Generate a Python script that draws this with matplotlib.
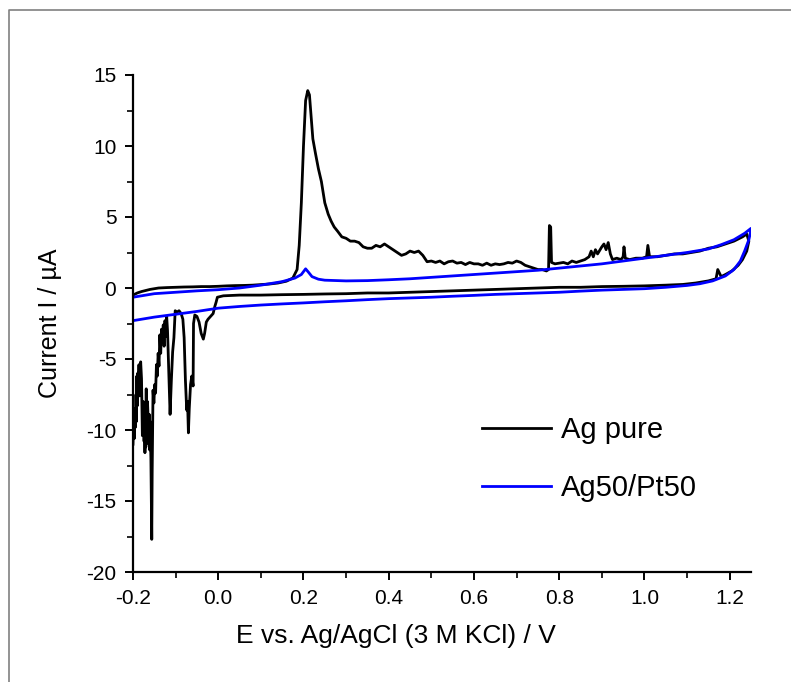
import matplotlib.pyplot as plt
from matplotlib.lines import Line2D
from matplotlib.ticker import MultipleLocator

plt.rcParams['font.family'] = ['Liberation Sans', 'DejaVu Sans']

# Ag pure: anodic sweep -0.2 -> 1.25 V, then cathodic sweep back
ag_fwd_e = [-0.200, -0.190, -0.180, -0.160, -0.140, -0.120, -0.100, -0.080, -0.060, -0.040,
            -0.020, 0.000, 0.020, 0.040, 0.060, 0.080, 0.100, 0.120, 0.140, 0.160,
            0.175, 0.185, 0.190, 0.195, 0.200, 0.205, 0.210, 0.214, 0.218, 0.222,
            0.228, 0.235, 0.242, 0.250, 0.258, 0.265, 0.272, 0.280, 0.290, 0.300,
            0.310, 0.320, 0.330, 0.340, 0.350, 0.360, 0.370, 0.380, 0.390, 0.400,
            0.410, 0.420, 0.430, 0.440, 0.450, 0.460, 0.470, 0.480, 0.490, 0.500,
            0.510, 0.520, 0.530, 0.540, 0.550, 0.560, 0.570, 0.580, 0.590, 0.600,
            0.610, 0.620, 0.630, 0.640, 0.650, 0.660, 0.670, 0.680, 0.690, 0.700,
            0.710, 0.720, 0.730, 0.740, 0.750, 0.760, 0.770, 0.775, 0.777, 0.780,
            0.782, 0.790, 0.800, 0.810, 0.820, 0.830, 0.840, 0.850, 0.860, 0.870,
            0.875, 0.880, 0.885, 0.890, 0.900, 0.905, 0.910, 0.915, 0.920, 0.925,
            0.935, 0.945, 0.950, 0.952, 0.955, 0.965, 0.980, 0.995, 1.005, 1.008,
            1.012, 1.030, 1.050, 1.070, 1.090, 1.110, 1.130, 1.150, 1.170, 1.190,
            1.210, 1.230, 1.240]
ag_fwd_i = [-0.50, -0.35, -0.25, -0.10, 0.00, 0.03, 0.05, 0.07, 0.08, 0.10,
            0.10, 0.12, 0.15, 0.17, 0.18, 0.20, 0.24, 0.28, 0.35, 0.48,
            0.70, 1.30, 3.00, 6.00, 10.0, 13.2, 13.9, 13.6, 12.0, 10.5,
            9.5, 8.4, 7.5, 6.0, 5.2, 4.7, 4.3, 4.0, 3.6, 3.5,
            3.3, 3.3, 3.2, 2.9, 2.8, 2.8, 3.0, 2.9, 3.1, 2.9,
            2.7, 2.5, 2.3, 2.4, 2.6, 2.5, 2.6, 2.3, 1.85, 1.9,
            1.8, 1.9, 1.7, 1.85, 1.9, 1.75, 1.8, 1.65, 1.8, 1.7,
            1.7, 1.6, 1.75, 1.6, 1.7, 1.65, 1.7, 1.8, 1.75, 1.9,
            1.8, 1.6, 1.5, 1.4, 1.3, 1.3, 1.2, 1.3, 4.4, 4.3,
            1.8, 1.7, 1.75, 1.8, 1.7, 1.9, 1.8, 1.9, 2.0, 2.2,
            2.6, 2.2, 2.7, 2.4, 2.9, 3.1, 2.7, 3.2, 2.4, 2.0,
            2.1, 2.0, 2.2, 2.9, 2.1, 2.0, 2.1, 2.1, 2.2, 3.0,
            2.2, 2.2, 2.3, 2.4, 2.4, 2.5, 2.6, 2.8, 2.9, 3.1,
            3.3, 3.6, 3.8]

ag_rev_e = [1.240, 1.245, 1.240, 1.230, 1.220, 1.205, 1.190, 1.180, 1.172, 1.168,
            1.150, 1.120, 1.090, 1.050, 1.000, 0.950, 0.900, 0.850, 0.800, 0.750,
            0.700, 0.650, 0.600, 0.550, 0.500, 0.450, 0.400, 0.350, 0.300, 0.250,
            0.200, 0.150, 0.100, 0.050, 0.012, 0.005, -0.002, -0.005, -0.008, -0.012,
            -0.018, -0.024, -0.028, -0.032, -0.035, -0.040, -0.045, -0.050, -0.055, -0.058,
            -0.059, -0.062, -0.065, -0.068, -0.070, -0.072, -0.074, -0.077, -0.080, -0.083,
            -0.087, -0.092, -0.097, -0.101, -0.104, -0.107, -0.110, -0.113, -0.116, -0.119,
            -0.121, -0.123, -0.125, -0.127, -0.129, -0.131, -0.133, -0.135, -0.137, -0.139,
            -0.141, -0.143, -0.145, -0.147, -0.149, -0.151, -0.153, -0.155, -0.156, -0.158,
            -0.160, -0.161, -0.162, -0.163, -0.164, -0.166, -0.168, -0.169, -0.170, -0.171,
            -0.172, -0.173, -0.174, -0.176, -0.178, -0.180, -0.182, -0.184, -0.186, -0.188,
            -0.189, -0.190, -0.191, -0.192, -0.193, -0.194, -0.196, -0.197, -0.198, -0.200]
ag_rev_i = [3.8, 3.3, 2.6, 2.0, 1.6, 1.2, 0.95, 0.8, 1.3, 0.65,
            0.5, 0.35, 0.25, 0.2, 0.15, 0.12, 0.1, 0.05, 0.05, 0.0,
            -0.05, -0.1, -0.15, -0.2, -0.25, -0.3, -0.35, -0.35, -0.4, -0.42,
            -0.45, -0.47, -0.5, -0.5, -0.55, -0.6, -0.65, -1.0, -1.3, -1.8,
            -2.0, -2.2, -2.4, -3.2, -3.6, -3.2, -2.4, -2.0, -1.9, -2.5,
            -6.9, -6.2, -6.8, -8.5, -10.2, -8.0, -8.6, -6.5, -3.5, -2.2,
            -1.8, -1.6, -1.7, -1.6, -3.5, -4.5, -6.5, -8.9, -6.0, -3.0,
            -2.0, -3.4, -2.3, -4.1, -2.6, -3.8, -2.9, -4.6, -3.3, -5.5,
            -4.6, -6.2, -5.4, -7.4, -6.8, -8.1, -7.2, -13.0, -17.7, -12.0,
            -9.4, -11.4, -8.9, -11.0, -9.6, -8.0, -10.3, -7.1, -11.2, -8.6,
            -11.6, -9.2, -10.8, -8.0, -10.4, -6.4, -5.2, -7.6, -5.4, -7.1,
            -6.0, -8.3, -6.2, -9.4, -7.5, -9.8, -8.5, -10.6, -9.0, -11.0]

# Ag50/Pt50
agpt_fwd_e = [-0.200, -0.150, -0.100, -0.050, 0.000, 0.050, 0.100, 0.150, 0.180, 0.195,
              0.205, 0.212, 0.220, 0.235, 0.250, 0.300, 0.350, 0.400, 0.450, 0.500,
              0.550, 0.600, 0.650, 0.700, 0.750, 0.800, 0.850, 0.900, 0.950, 1.000,
              1.050, 1.100, 1.150, 1.180, 1.210, 1.235, 1.250]
agpt_fwd_i = [-0.65, -0.40, -0.30, -0.20, -0.12, 0.00, 0.20, 0.45, 0.70, 0.95,
              1.35, 1.10, 0.80, 0.62, 0.55, 0.50, 0.52, 0.58, 0.65, 0.75,
              0.85, 0.95, 1.05, 1.15, 1.25, 1.40, 1.55, 1.70, 1.90, 2.10,
              2.30, 2.50, 2.75, 3.05, 3.40, 3.85, 4.20]

agpt_rev_e = [1.250, 1.245, 1.235, 1.225, 1.210, 1.190, 1.160, 1.130, 1.100, 1.050,
              1.000, 0.950, 0.900, 0.850, 0.800, 0.750, 0.700, 0.650, 0.600, 0.550,
              0.500, 0.450, 0.400, 0.350, 0.300, 0.250, 0.200, 0.150, 0.100, 0.050,
              0.000, -0.050, -0.100, -0.150, -0.200]
agpt_rev_i = [4.10, 3.40, 2.60, 1.90, 1.30, 0.85, 0.50, 0.30, 0.18, 0.05,
              -0.05, -0.10, -0.15, -0.22, -0.30, -0.35, -0.40, -0.45, -0.52, -0.58,
              -0.65, -0.70, -0.75, -0.82, -0.90, -0.97, -1.05, -1.12, -1.20, -1.30,
              -1.42, -1.65, -1.85, -2.05, -2.30]

x_ticks = [-0.2, 0.0, 0.2, 0.4, 0.6, 0.8, 1.0, 1.2]
x_tick_labels = ['-0.2', '0.0', '0.2', '0.4', '0.6', '0.8', '1.0', '1.2']
y_ticks = [-20, -15, -10, -5, 0, 5, 10, 15]
y_tick_labels = ['-20', '-15', '-10', '-5', '0', '5', '10', '15']

W, H = 791, 682
fig = plt.figure(figsize=(W / 100, H / 100), dpi=100)
ax = fig.add_axes([133 / W, 1 - 572 / H, (751 - 133) / W, (572 - 75) / H])

ax.plot(ag_fwd_e + ag_rev_e, ag_fwd_i + ag_rev_i, color='black', lw=2.0, label='Ag pure')
ax.plot(agpt_fwd_e + agpt_rev_e, agpt_fwd_i + agpt_rev_i, color='#0000ff', lw=2.0, label='Ag50/Pt50')

ax.set_xlim(-0.2, 1.25)
ax.set_ylim(-20, 15)
ax.set_xticks(x_ticks)
ax.set_xticklabels(x_tick_labels)
ax.set_yticks(y_ticks)
ax.set_yticklabels(y_tick_labels)
ax.xaxis.set_minor_locator(MultipleLocator(0.1))
ax.yaxis.set_minor_locator(MultipleLocator(2.5))

for side in ['top', 'right']:
    ax.spines[side].set_visible(False)
for side in ['left', 'bottom']:
    ax.spines[side].set_linewidth(1.6)
ax.tick_params(which='major', direction='out', length=6, width=1.4, labelsize=15, pad=6)
ax.tick_params(which='minor', direction='out', length=4, width=1.2)

ax.set_xlabel('E vs. Ag/AgCl (3 M KCl) / V', fontsize=19)
ax.set_ylabel('Current I / \u00b5A', fontsize=18)
ax.xaxis.set_label_coords((396 - 133) / (751 - 133), -(636 - 572) / (572 - 75))
ax.yaxis.set_label_coords(-(133 - 50) / (751 - 133), 0.5)
ax.xaxis.label.set_va('center')
ax.yaxis.label.set_va('center')

ax.legend(loc='center left', bbox_to_anchor=(482 / W, 1 - 459 / H), bbox_transform=fig.transFigure,
          frameon=False, fontsize=21, handlelength=2.37, handletextpad=0.34,
          labelspacing=1.02, borderpad=0, borderaxespad=0)

# thin grey frame of the original figure (left and top edges only)
fig.add_artist(Line2D([9 / W, 9 / W, 1], [0, 1 - 10 / H, 1 - 10 / H],
                      transform=fig.transFigure, color='#808080', lw=1.2))

fig.savefig('out.png', dpi=100)
